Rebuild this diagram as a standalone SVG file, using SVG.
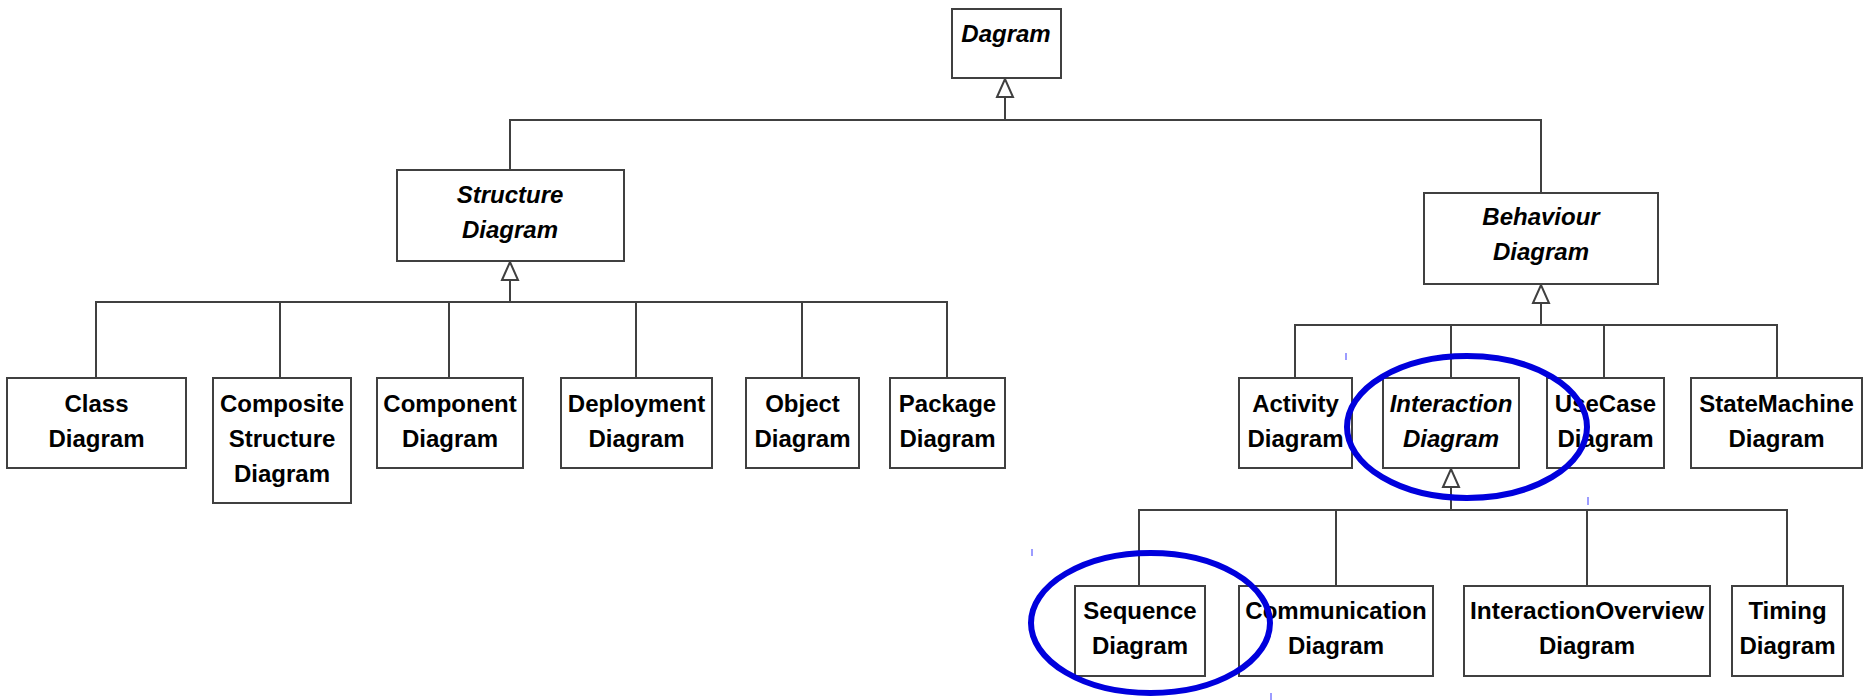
<svg xmlns="http://www.w3.org/2000/svg" width="1870" height="700" viewBox="0 0 1870 700">
<defs>
<style>
.box{fill:#fff;stroke:#404040;stroke-width:2}
.ln{fill:none;stroke:#404040;stroke-width:2}
.t{font-family:"Liberation Sans",Arial,sans-serif;font-size:24px;font-weight:bold;fill:#000;text-anchor:middle}
.a{font-style:italic}
.hl{fill:none;stroke:#0000dd;stroke-width:6}
.tick{stroke:#5a5aff;stroke-width:1.2}
</style>
<marker id="gen" markerUnits="userSpaceOnUse" viewBox="-1 -10 21 20" refX="18" refY="0" markerWidth="21" markerHeight="20" orient="auto">
<path d="M0,-8 L18,0 L0,8 Z" fill="#fff" stroke="#404040" stroke-width="2"/>
</marker>
</defs>
<rect width="1870" height="700" fill="#fff"/>
<g id="connectors">
<line class="ln" x1="1005" y1="120" x2="1005" y2="79" marker-end="url(#gen)"/>
<polyline class="ln" points="510,170 510,120 1541,120 1541,193"/>
<line class="ln" x1="510" y1="302" x2="510" y2="262" marker-end="url(#gen)"/>
<polyline class="ln" points="96,378 96,302 947,302 947,378"/>
<line class="ln" x1="280" y1="302" x2="280" y2="378"/>
<line class="ln" x1="449" y1="302" x2="449" y2="378"/>
<line class="ln" x1="636" y1="302" x2="636" y2="378"/>
<line class="ln" x1="802" y1="302" x2="802" y2="378"/>
<line class="ln" x1="1541" y1="325" x2="1541" y2="285" marker-end="url(#gen)"/>
<polyline class="ln" points="1295,378 1295,325 1777,325 1777,378"/>
<line class="ln" x1="1451" y1="325" x2="1451" y2="378"/>
<line class="ln" x1="1604" y1="325" x2="1604" y2="378"/>
<line class="ln" x1="1451" y1="510" x2="1451" y2="469" marker-end="url(#gen)"/>
<polyline class="ln" points="1139,586 1139,510 1787,510 1787,586"/>
<line class="ln" x1="1336" y1="510" x2="1336" y2="586"/>
<line class="ln" x1="1587" y1="510" x2="1587" y2="586"/>
</g>
<g id="dagram"><rect class="box" x="952" y="9" width="109" height="69"/><text class="t a" x="1006" y="42">Dagram</text></g>
<g id="structure"><rect class="box" x="397" y="170" width="227" height="91"/><text class="t a" x="510" y="203">Structure</text><text class="t a" x="510" y="238">Diagram</text></g>
<g id="behaviour"><rect class="box" x="1424" y="193" width="234" height="91"/><text class="t a" x="1541" y="225">Behaviour</text><text class="t a" x="1541" y="260">Diagram</text></g>
<g id="class"><rect class="box" x="7" y="378" width="179" height="90"/><text class="t" x="96.5" y="412">Class</text><text class="t" x="96.5" y="447">Diagram</text></g>
<g id="composite"><rect class="box" x="213" y="378" width="138" height="125"/><text class="t" x="282" y="412">Composite</text><text class="t" x="282" y="447">Structure</text><text class="t" x="282" y="482">Diagram</text></g>
<g id="component"><rect class="box" x="377" y="378" width="146" height="90"/><text class="t" x="450" y="412">Component</text><text class="t" x="450" y="447">Diagram</text></g>
<g id="deployment"><rect class="box" x="561" y="378" width="151" height="90"/><text class="t" x="636.5" y="412">Deployment</text><text class="t" x="636.5" y="447">Diagram</text></g>
<g id="object"><rect class="box" x="746" y="378" width="113" height="90"/><text class="t" x="802.5" y="412">Object</text><text class="t" x="802.5" y="447">Diagram</text></g>
<g id="package"><rect class="box" x="890" y="378" width="115" height="90"/><text class="t" x="947.5" y="412">Package</text><text class="t" x="947.5" y="447">Diagram</text></g>
<g id="activity"><rect class="box" x="1239" y="378" width="113" height="90"/><text class="t" x="1295.5" y="412">Activity</text><text class="t" x="1295.5" y="447">Diagram</text></g>
<g id="interaction"><rect class="box" x="1383" y="378" width="136" height="90"/><text class="t a" x="1451" y="412">Interaction</text><text class="t a" x="1451" y="447">Diagram</text></g>
<g id="usecase"><rect class="box" x="1547" y="378" width="117" height="90"/><text class="t" x="1605.5" y="412">UseCase</text><text class="t" x="1605.5" y="447">Diagram</text></g>
<g id="statemachine"><rect class="box" x="1691" y="378" width="171" height="90"/><text class="t" x="1776.5" y="412">StateMachine</text><text class="t" x="1776.5" y="447">Diagram</text></g>
<g id="sequence"><rect class="box" x="1075" y="586" width="130" height="90"/><text class="t" x="1140" y="619">Sequence</text><text class="t" x="1140" y="654">Diagram</text></g>
<g id="communication"><rect class="box" x="1239" y="586" width="194" height="90"/><text class="t" x="1336" y="619">Communication</text><text class="t" x="1336" y="654">Diagram</text></g>
<g id="overview"><rect class="box" x="1464" y="586" width="246" height="90"/><text class="t" x="1587" y="619" textLength="234" lengthAdjust="spacingAndGlyphs">InteractionOverview</text><text class="t" x="1587" y="654">Diagram</text></g>
<g id="timing"><rect class="box" x="1732" y="586" width="111" height="90"/><text class="t" x="1787.5" y="619">Timing</text><text class="t" x="1787.5" y="654">Diagram</text></g>
<g id="highlights">
<ellipse class="hl" cx="1467" cy="427" rx="120" ry="71"/>
<ellipse class="hl" cx="1150.5" cy="623" rx="119.5" ry="70"/>
<line class="tick" x1="1346" y1="353" x2="1346" y2="360"/>
<line class="tick" x1="1588" y1="497" x2="1588" y2="505"/>
<line class="tick" x1="1032" y1="549" x2="1032" y2="556"/>
<line class="tick" x1="1271" y1="693" x2="1271" y2="700"/>
</g>
</svg>
